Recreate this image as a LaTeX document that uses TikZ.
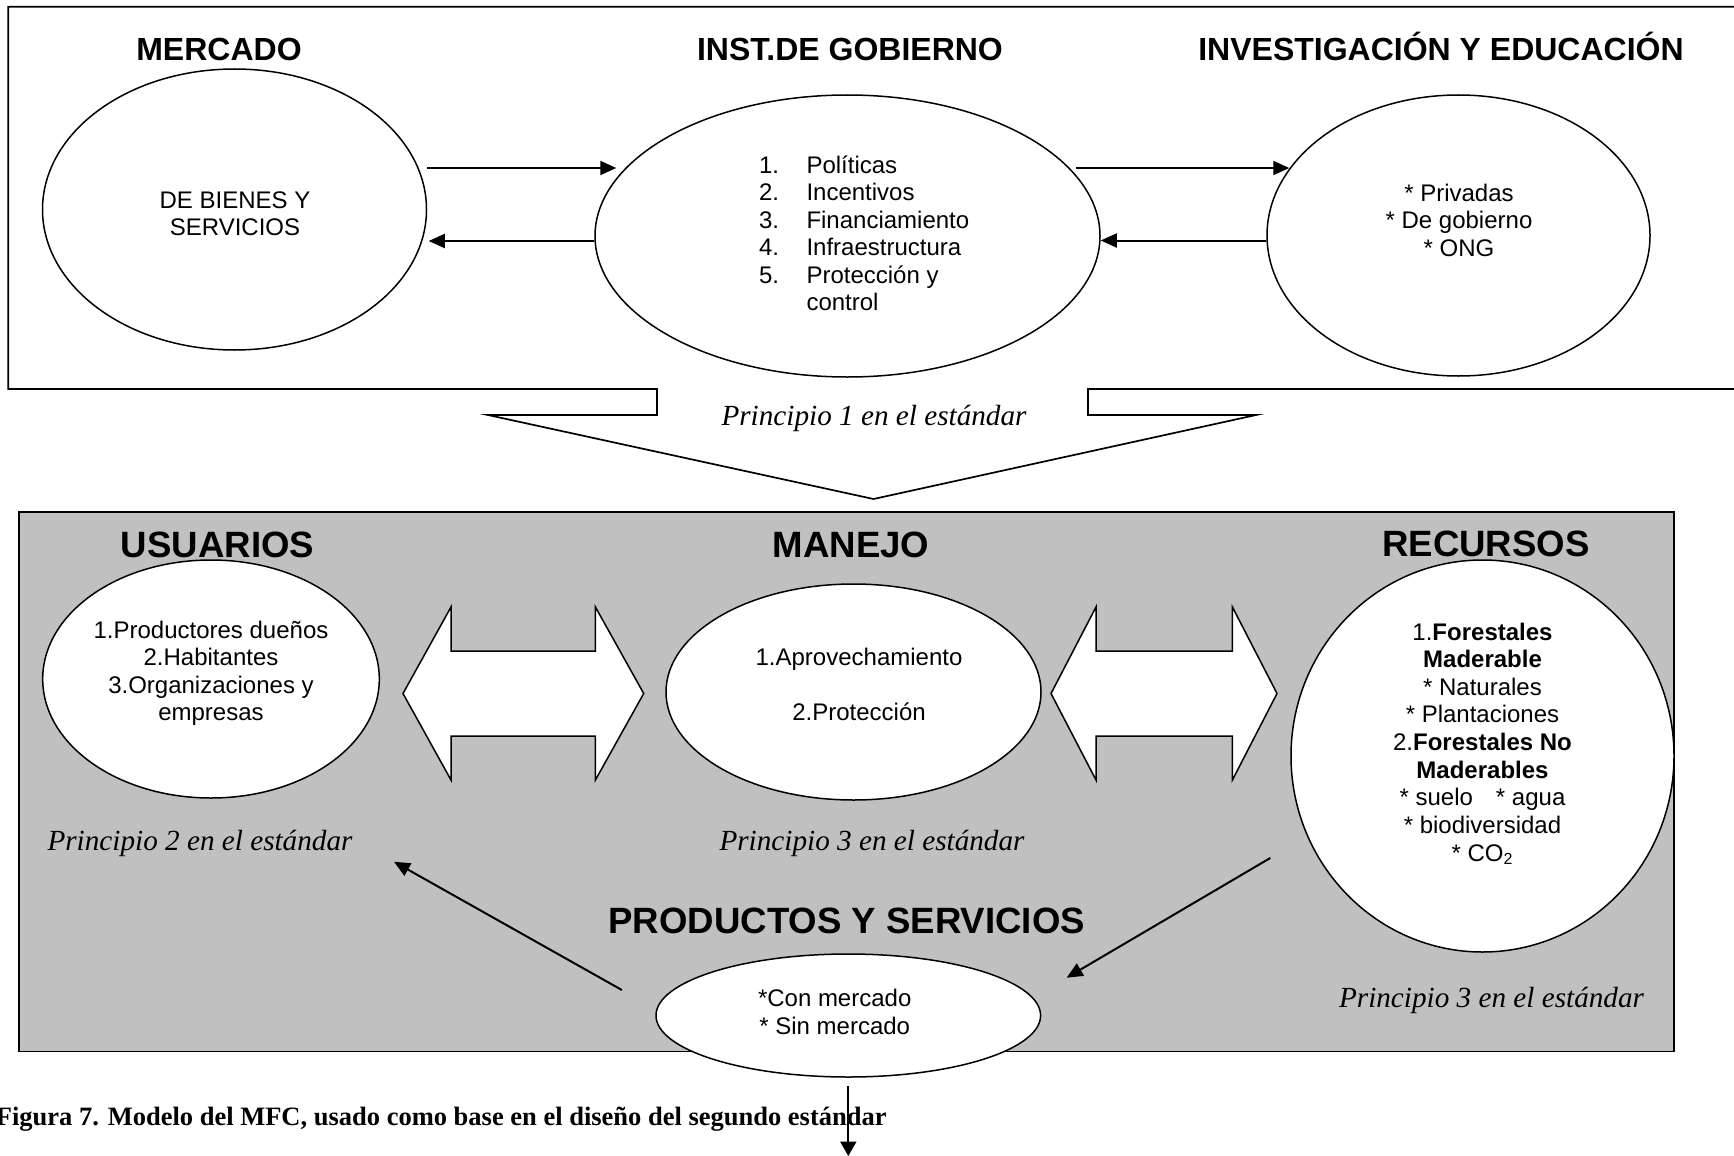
\documentclass[tikz,border=0pt]{standalone}
\usepackage{fontspec}
\setmainfont{Liberation Serif}
\setsansfont{Liberation Sans}
\usetikzlibrary{calc,arrows.meta,shapes.geometric}
\definecolor{boxgray}{HTML}{C0C0C0}
\begin{document}
\begin{tikzpicture}[x=0.5pt,y=-0.5pt,
  ell/.style={draw, ellipse, fill=white, line width=0.75pt, inner sep=0pt},
  sf/.style={font=\sffamily\fontsize{12}{14}\selectfont, inner sep=0pt, anchor=base},
  ttl/.style={font=\sffamily\bfseries\fontsize{16}{19}\selectfont, inner sep=0pt, anchor=base},
  ttlb/.style={font=\sffamily\bfseries\fontsize{18.3}{22}\selectfont, inner sep=0pt, anchor=base},
  pr/.style={font=\itshape\fontsize{14.6}{17}\selectfont, inner sep=0pt, anchor=base},
  arr/.style={line width=1pt, -{Triangle[length=8pt,width=7pt]}},
  frame/.style={line width=0.85pt},
  dblarrow/.style={draw, fill=white, line width=0.75pt, line join=miter}
]
\useasboundingbox[fill=white] (0,0) rectangle (1734,1156);

% ---------- upper part ----------
\draw[frame] (1745,6.7) -- (8.3,6.7) -- (8.3,389) -- (657,389) -- (657,415) -- (488,415)
  -- (873.5,499) -- (1256,415) -- (1088,415) -- (1088,389) -- (1745,389);

\node[ell, minimum width=192pt, minimum height=140.5pt] (mer) at (234.5,209.5) {};
\node[ell, minimum width=252.5pt, minimum height=141pt] (gob) at (847.5,236) {};
\node[ell, minimum width=191.5pt, minimum height=140.5pt] (inv) at (1458.5,235.5) {};

\node[ttl] (tmer) at (219,60.5) {MERCADO};
\node[ttl] (tgob) at (850,60.5) {INST.DE GOBIERNO};
\node[ttl] (tinv) at (1441,60.5) {INVESTIGACIÓN Y EDUCACIÓN};

\node[sf] (m1) at (235,208.3) {DE BIENES Y};
\node[sf] (m2) at (235,235.8) {SERVICIOS};

\foreach \n/\t [count=\i from 0] in {1./Políticas, 2./Incentivos, 3./Financiamiento, 4./Infraestructura, 5./Protección y}
  \node[sf, anchor=base west] (g\i) at (758.6,{173.3+27.5*\i}) {\makebox[23.75pt][l]{\n}\t};
\node[sf, anchor=base west] (g5) at (806.1,310.8) {control};

\node[sf] (i1) at (1459,201) {* Privadas};
\node[sf] (i2) at (1459,228.5) {* De gobierno};
\node[sf] (i3) at (1459,256) {* ONG};

\draw[arr] ($(mer.east)+(0,-41.5)$) -- ($(gob.west)+(22,-68)$);
\draw[arr] ($(gob.west)+(0,5)$) -- ($(mer.east)+(1.5,31.5)$);
\draw[arr] ($(gob.east)+(-25,-68)$) -- ($(inv.west)+(23,-67.5)$);
\draw[arr] ($(inv.west)+(0,5)$) -- ($(gob.east)+(0,4.5)$);

\node[pr] (p1) at (874,425) {Principio 1 en el estándar};

% ---------- lower part ----------
\draw[frame, fill=boxgray] (19,512) rectangle (1674,1051.5);

\node[ttlb] (tusu) at (217.5,557) {USUARIOS};
\node[ttlb] (tman) at (851,557) {MANEJO};
\node[ttlb] (trec) at (1486,556) {RECURSOS};
\node[ttlb] (tpro) at (846.7,933) {PRODUCTOS Y SERVICIOS};

\node[ell, minimum width=168.3pt, minimum height=119pt] (usu) at (211,679) {};
\node[ell, minimum width=187.5pt, minimum height=108pt] (man) at (853.5,692) {};
\node[ell, minimum width=191.5pt, minimum height=196pt] (rec) at (1482.5,756) {};

\draw[dblarrow] (403,693.5) -- (451,607) -- (451,651) -- (595.4,651) -- (595.4,607) -- (643.7,693.5)
  -- (595.4,780) -- (595.4,736) -- (451,736) -- (451,780) -- cycle;
\draw[dblarrow] (1051,693.5) -- (1096,607) -- (1096,651) -- (1232.4,651) -- (1232.4,607) -- (1277,693.5)
  -- (1232.4,780) -- (1232.4,736) -- (1096,736) -- (1096,780) -- cycle;

\foreach \t [count=\i from 0] in {1.Productores dueños, 2.Habitantes, 3.Organizaciones y, empresas}
  \node[sf] (u\i) at (211,{638.3+27.5*\i}) {\t};

\node[sf] (a1) at (859,665) {1.Aprovechamiento};
\node[sf] (a2) at (859,720) {2.Protección};

\foreach \t [count=\i from 0] in {{1.\textbf{Forestales}}, {\textbf{Maderable}}, {* Naturales}, {* Plantaciones},
  {2.\textbf{Forestales No}}, {\textbf{Maderables}}, {* suelo\hspace{11.5pt}* agua}, {* biodiversidad}, {* CO\textsubscript{2}}}
  \node[sf] (r\i) at (1482.5,{640+27.65*\i}) {\t};

\node[pr] (p2) at (200,850) {Principio 2 en el estándar};
\node[pr] (p3) at (872,850) {Principio 3 en el estándar};
\node[pr] (p4) at (1491.5,1007) {Principio 3 en el estándar};

\node[ell, minimum width=192.3pt, minimum height=61.5pt] (pro) at (848.3,1015.5) {};
\node[sf] (c1) at (834.7,1006.6) {*Con mercado};
\node[sf] (c2) at (834.7,1034.2) {* Sin mercado};

\draw[arr] ($(pro.west)+(-33.4,-25.5)$) -- ($(usu.south)+(183,63)$);
\draw[arr] ($(rec.west)+(-20,102)$) -- ($(pro.east)+(25.3,-37.8)$);

% ---------- caption ----------
\node[font=\bfseries\fontsize{13.25}{16}\selectfont, inner sep=0pt, anchor=base east] (cap) at (887,1125)
  {Figura 7. Modelo del MFC, usado como base en el diseño del segundo estándar};

\coordinate (down) at (848.3,1156);
\draw[line width=1pt, -{Triangle[length=7.25pt,width=8pt]}] ($(pro.south)+(0,8)$) -- (down);
\end{tikzpicture}
\end{document}
